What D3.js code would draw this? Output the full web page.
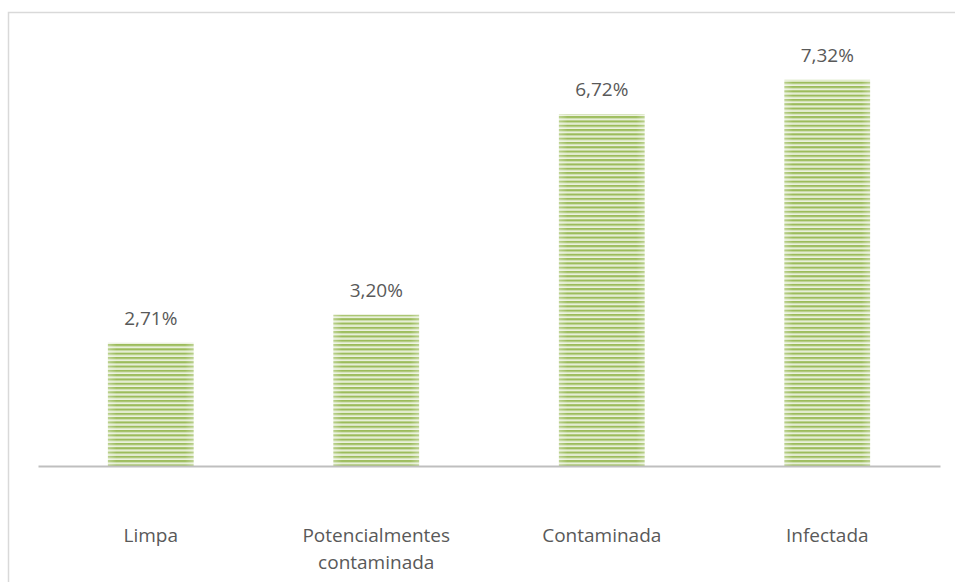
<!DOCTYPE html>
<html>
<head>
<meta charset="utf-8">
<script src="https://cdn.jsdelivr.net/npm/d3@7/dist/d3.min.js"></script>
<style>
  html, body { margin: 0; padding: 0; background: #fff; }
  svg { display: block; }
  text { font-family: "Open Sans", "Noto Sans", sans-serif; fill: #595959; }
</style>
</head>
<body>
<svg id="chart" width="955" height="582"></svg>
<script>
// Categories and values (percent)
const categories = ["Limpa", "Potencialmentes\ncontaminada", "Contaminada", "Infectada"];
const values = [2.71, 3.20, 6.72, 7.32];
const valueLabels = ["2,71%", "3,20%", "6,72%", "7,32%"];

const W = 955, H = 582;
const svg = d3.select("#chart");

// Striped fill for the bars
const defs = svg.append("defs");
const pat = defs.append("pattern")
  .attr("id", "stripes")
  .attr("patternUnits", "userSpaceOnUse")
  .attr("width", 8).attr("height", 4.3);
pat.append("rect").attr("width", 8).attr("height", 4.3).attr("fill", "#edf3e1");
pat.append("rect").attr("y", 0).attr("width", 8).attr("height", 2).attr("fill", "#9cbc5b");
pat.append("rect").attr("y", 2).attr("width", 8).attr("height", 0.8).attr("fill", "#bfd496");

const edge = defs.append("linearGradient").attr("id", "edgeShade")
  .attr("x1", "0").attr("x2", "1").attr("y1", "0").attr("y2", "0");
edge.append("stop").attr("offset", "0").attr("stop-color", "#fff").attr("stop-opacity", 0.3);
edge.append("stop").attr("offset", "0.1").attr("stop-color", "#fff").attr("stop-opacity", 0);
edge.append("stop").attr("offset", "0.9").attr("stop-color", "#fff").attr("stop-opacity", 0);
edge.append("stop").attr("offset", "1").attr("stop-color", "#fff").attr("stop-opacity", 0.3);

// Chart frame (top and left edges)
svg.append("path")
  .attr("d", `M8.5,${H} L8.5,12.5 L${W},12.5`)
  .attr("fill", "none")
  .attr("stroke", "#d9d9d9")
  .attr("stroke-width", 1.5);

const x = d3.scaleBand()
  .domain(categories)
  .range([38, 940])
  .paddingInner(0.62)
  .paddingOuter(0.31);

const y = d3.scaleLinear()
  .domain([0.55, 8])
  .range([466, 41]);

const g = svg.append("g");

g.selectAll("rect.bar")
  .data(values)
  .join("rect")
  .attr("class", "bar")
  .attr("x", (d, i) => x(categories[i]))
  .attr("y", d => y(d))
  .attr("width", x.bandwidth())
  .attr("height", d => y.range()[0] - y(d))
  .attr("fill", "url(#stripes)");

g.selectAll("rect.shade")
  .data(values)
  .join("rect")
  .attr("class", "shade")
  .attr("x", (d, i) => x(categories[i]))
  .attr("y", d => y(d))
  .attr("width", x.bandwidth())
  .attr("height", d => y.range()[0] - y(d))
  .attr("fill", "url(#edgeShade)");

// Value labels
g.selectAll("text.val")
  .data(values)
  .join("text")
  .attr("class", "val")
  .attr("x", (d, i) => x(categories[i]) + x.bandwidth() / 2)
  .attr("y", d => y(d) - 18)
  .attr("text-anchor", "middle")
  .attr("font-size", 19)
  .text((d, i) => valueLabels[i]);

// Category axis
const axis = svg.append("g")
  .attr("transform", "translate(0,466)")
  .call(d3.axisBottom(x).tickSize(0).tickFormat(""));
axis.select(".domain").attr("stroke", "#bfbfbf").attr("stroke-width", 2);

axis.selectAll(".tick").each(function (d) {
  const t = d3.select(this).append("text")
    .attr("text-anchor", "middle")
    .attr("font-size", 19)
    .attr("fill", "#595959");
  d.split("\n").forEach((line, j) => {
    t.append("tspan").attr("x", 0).attr("y", 76 + j * 27).text(line);
  });
});
</script>
</body>
</html>
